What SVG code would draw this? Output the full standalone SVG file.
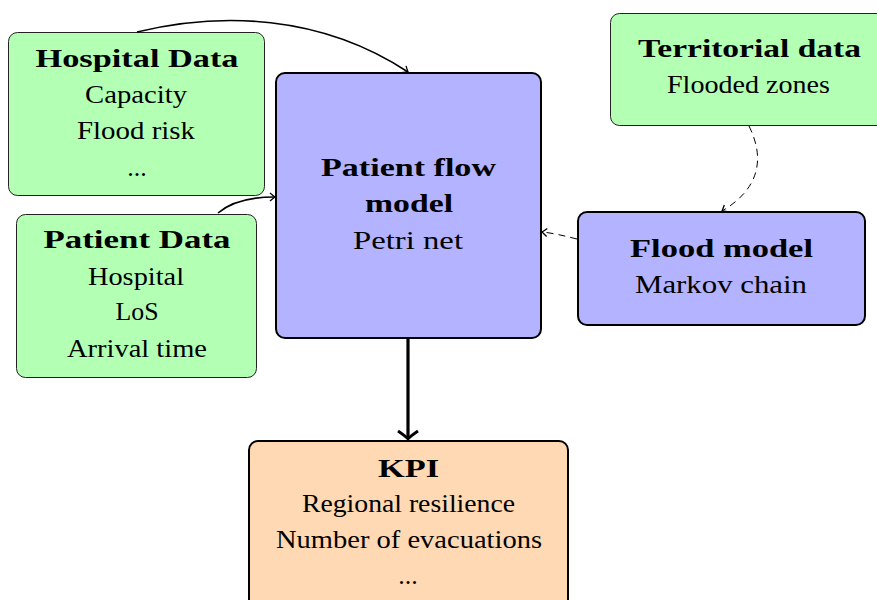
<svg xmlns="http://www.w3.org/2000/svg" width="877" height="600" viewBox="0 0 877 600">
<style>
.t{font-family:'Liberation Serif','Times New Roman',serif;font-size:26px;fill:#000;text-anchor:middle}
.b{font-weight:bold}
.g{fill:#b3ffb3;stroke:#222;stroke-width:1}
.bl{fill:#b3b3ff;stroke:#000;stroke-width:2}
.or{fill:#ffd9b3;stroke:#000;stroke-width:2}
.c{fill:none;stroke:#000;stroke-width:1.6}
.d{fill:none;stroke:#000;stroke-width:1;stroke-dasharray:7 5}
</style>
<defs>
<marker id="ah" viewBox="-6 -5 8 10" markerWidth="8" markerHeight="10" refX="0" refY="0" orient="auto" markerUnits="userSpaceOnUse">
<path d="M-5,-4 Q-1.5,-1 0,0 Q-1.5,1 -5,4" fill="none" stroke="#000" stroke-width="1.3"/>
</marker>
<marker id="ahb" viewBox="-10 -12 13 24" markerWidth="13" markerHeight="24" refX="0" refY="0" orient="auto" markerUnits="userSpaceOnUse">
<path d="M-8,-10 Q-2.5,-2 0,0 Q-2.5,2 -8,10" fill="none" stroke="#000" stroke-width="2.8"/>
</marker>
</defs>
<g id="hospital-data">
<rect class="g" x="8.5" y="32.5" width="256" height="163" rx="9"/>
<text class="t b" x="137" y="67" textLength="203" lengthAdjust="spacingAndGlyphs">Hospital Data</text>
<text class="t" x="136" y="103" textLength="102" lengthAdjust="spacingAndGlyphs">Capacity</text>
<text class="t" x="136" y="139" textLength="118" lengthAdjust="spacingAndGlyphs">Flood risk</text>
<text class="t" x="137" y="176">...</text>
</g>
<g id="patient-data">
<rect class="g" x="16.5" y="214.5" width="240" height="163" rx="9"/>
<text class="t b" x="137" y="248" textLength="187" lengthAdjust="spacingAndGlyphs">Patient Data</text>
<text class="t" x="136" y="285" textLength="96" lengthAdjust="spacingAndGlyphs">Hospital</text>
<text class="t" x="137" y="320" textLength="43" lengthAdjust="spacingAndGlyphs">LoS</text>
<text class="t" x="137" y="357" textLength="140" lengthAdjust="spacingAndGlyphs">Arrival time</text>
</g>
<g id="patient-flow-model">
<rect class="bl" x="276" y="73" width="265" height="265" rx="9"/>
<text class="t b" x="408.5" y="176" textLength="175" lengthAdjust="spacingAndGlyphs">Patient flow</text>
<text class="t b" x="409" y="212" textLength="88" lengthAdjust="spacingAndGlyphs">model</text>
<text class="t" x="408" y="249" textLength="110" lengthAdjust="spacingAndGlyphs">Petri net</text>
</g>
<g id="territorial-data">
<rect class="g" x="610.5" y="13.5" width="280" height="112" rx="9"/>
<text class="t b" x="749.5" y="57" textLength="223" lengthAdjust="spacingAndGlyphs">Territorial data</text>
<text class="t" x="748.5" y="93" textLength="163" lengthAdjust="spacingAndGlyphs">Flooded zones</text>
</g>
<g id="flood-model">
<rect class="bl" x="578" y="212" width="287" height="113" rx="9"/>
<text class="t b" x="721.5" y="257" textLength="183" lengthAdjust="spacingAndGlyphs">Flood model</text>
<text class="t" x="721" y="293" textLength="172" lengthAdjust="spacingAndGlyphs">Markov chain</text>
</g>
<g id="kpi">
<rect class="or" x="249" y="441" width="319" height="175" rx="9"/>
<text class="t b" x="408.5" y="477" textLength="61" lengthAdjust="spacingAndGlyphs">KPI</text>
<text class="t" x="408.5" y="512" textLength="213" lengthAdjust="spacingAndGlyphs">Regional resilience</text>
<text class="t" x="409" y="548" textLength="266" lengthAdjust="spacingAndGlyphs">Number of evacuations</text>
<text class="t" x="408" y="584">...</text>
</g>
<g id="connectors">
<path class="c" d="M137,32 C220,12 320,14 408,72" marker-end="url(#ah)"/>
<path class="c" d="M218,213 C232,201 252,197 275,197" marker-end="url(#ah)"/>
<path class="d" d="M749,126 C766,160 758,190 722,211" marker-end="url(#ah)"/>
<path class="d" d="M577,239 C565,236 553,233 542,232" marker-end="url(#ah)"/>
<path fill="none" stroke="#000" stroke-width="3.2" d="M408,339 V439" marker-end="url(#ahb)"/>
</g>
</svg>
